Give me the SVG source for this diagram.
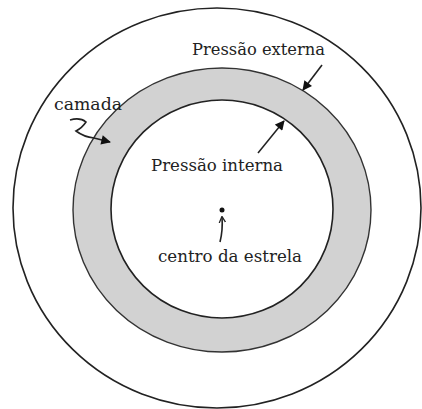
<svg xmlns="http://www.w3.org/2000/svg" width="422" height="409" viewBox="0 0 422 409">
<defs>
<style>
.ln{fill:none;stroke:#222;stroke-width:1.6}
.t{font-family:"DejaVu Serif","Liberation Serif",serif;font-size:16px;fill:#222}
</style>
<marker id="ah" viewBox="0 0 10 10" refX="9" refY="5" markerWidth="7" markerHeight="6" orient="auto">
<path d="M0,0 L10,5 L0,10 Z" fill="#111"/>
</marker>
<marker id="ah2" viewBox="0 0 10 10" refX="9" refY="5" markerWidth="4" markerHeight="5" orient="auto">
<path d="M0,0 L10,5 L0,10" fill="none" stroke="#222" stroke-width="2"/>
</marker>
</defs>
<rect width="422" height="409" fill="#fff"/>
<g id="star">
<ellipse cx="217" cy="208" rx="204" ry="200" class="ln"/>
</g>
<g id="camada-ring">
<ellipse cx="222" cy="210" rx="149" ry="142" fill="#d2d2d2" stroke="#333" stroke-width="1.4"/>
<ellipse cx="222" cy="209" rx="111" ry="109" fill="#fff" stroke="#222" stroke-width="1.6"/>
</g>
<g id="center">
<circle cx="222" cy="210" r="2.5" fill="#111"/>
</g>
<g id="labels">
<text class="t" x="192" y="55" textLength="133" lengthAdjust="spacingAndGlyphs">Pressão externa</text>
<text class="t" x="151" y="171" textLength="132" lengthAdjust="spacingAndGlyphs">Pressão interna</text>
<text class="t" x="158" y="262" textLength="144" lengthAdjust="spacingAndGlyphs">centro da estrela</text>
<text class="t" x="54" y="110" textLength="68" lengthAdjust="spacingAndGlyphs">camada</text>
</g>
<g id="connectors">
<path class="ln" d="M322,65 L303,90" marker-end="url(#ah)"/>
<path class="ln" d="M258,153 L284,121" marker-end="url(#ah)"/>
<path class="ln" stroke-width="1.2" d="M70,120 Q80,117 86,122 Q82,128 76,131 Q84,137 94,138 L110,142" marker-end="url(#ah)"/>
<path class="ln" stroke-width="1.2" d="M220,242 Q223,230 222,217" marker-end="url(#ah2)"/>
</g>
</svg>
